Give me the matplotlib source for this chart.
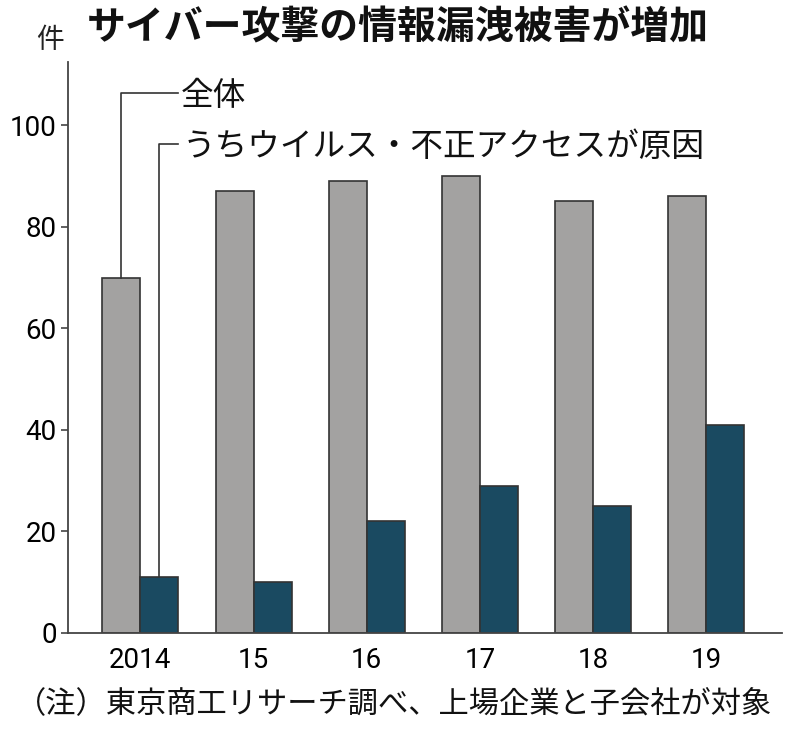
import matplotlib
matplotlib.use("Agg")
import matplotlib.pyplot as plt
import numpy as np

years = ["2014", "15", "16", "17", "18", "19"]
total = [70, 87, 89, 90, 85, 86]
virus = [11, 10, 22, 29, 25, 41]
yticks = [0, 20, 40, 60, 80, 100]

title = "サイバー攻撃の情報漏洩被害が増加"
label_total = "全体"
label_virus = "うちウイルス・不正アクセスが原因"
unit = "件"
note = "（注）東京商工リサーチ調べ、上場企業と子会社が対象"

jp = ["Noto Sans CJK JP", "DejaVu Sans"]
num_font = ["Liberation Sans Narrow", "Roboto", "DejaVu Sans"]

fig = plt.figure(figsize=(8, 7.36), dpi=100)
ax = fig.add_axes([0.085, 0.14, 0.8925, 0.776])

x = np.arange(len(years))
w = 0.336
gray = "#a3a2a1"
teal = "#1a4a61"
edge = "#333333"
ax.bar(x - w / 2, total, w, color=gray, edgecolor=edge, linewidth=1.2, zorder=2)
ax.bar(x + w / 2, virus, w, color=teal, edgecolor=edge, linewidth=1.2, zorder=2)

ax.set_xlim(-0.64, 5.67)
ax.set_ylim(0, 112.5)
ax.set_yticks(yticks)
ax.set_yticklabels([str(v) for v in yticks], family=num_font, fontsize=20)
ax.set_xticks(x)
ax.set_xticklabels(years, family=num_font, fontsize=20)
ax.tick_params(axis="y", direction="out", length=5, width=1.2, color="#444444", pad=3)
ax.tick_params(axis="x", length=0, pad=10)
for s in ["top", "right"]:
    ax.spines[s].set_visible(False)
for s in ["left", "bottom"]:
    ax.spines[s].set_color("#444444")
    ax.spines[s].set_linewidth(1.3)

# leader lines
lc = "#333333"
y_lab_t, y_lab_v = 106.3, 96.4
x_end = 0.336
ax.plot([x[0] - w / 2, x[0] - w / 2, x_end], [total[0], y_lab_t, y_lab_t], color=lc, lw=1.2, zorder=3, clip_on=False)
ax.plot([x[0] + w / 2, x[0] + w / 2, x_end], [virus[0], y_lab_v, y_lab_v], color=lc, lw=1.2, zorder=1, clip_on=False)
ax.text(x_end + 0.02, y_lab_t - 0.6, label_total, family=jp, fontsize=23.5, va="center", ha="left", color="#111111")
ax.text(x_end + 0.04, y_lab_v - 0.6, label_virus, family=jp, fontsize=23.5, va="center", ha="left", color="#111111")

fig.text(0.063, 0.945, unit, family=jp, fontsize=20, ha="center", va="center", color="#222222")
fig.text(0.4975, 0.962, title, family=jp, fontsize=28, fontweight="bold", ha="center", va="center", color="#111111")
fig.text(0.02, 0.044, note, family=jp, fontsize=21.8, ha="left", va="center", color="#111111")

fig.savefig("out.png", dpi=100, facecolor="white")
